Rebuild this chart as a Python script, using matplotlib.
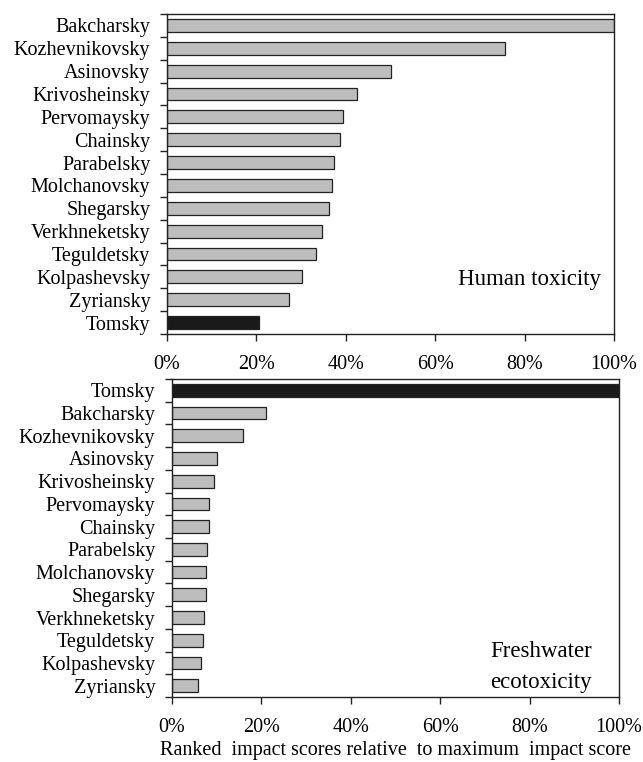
import matplotlib.pyplot as plt
from matplotlib.ticker import FixedLocator, PercentFormatter
import numpy as np

plt.rcParams['font.family'] = ['Liberation Serif', 'DejaVu Serif']

human_names = ['Bakcharsky', 'Kozhevnikovsky', 'Asinovsky', 'Krivosheinsky',
               'Pervomaysky', 'Chainsky', 'Parabelsky', 'Molchanovsky',
               'Shegarsky', 'Verkhneketsky', 'Teguldetsky', 'Kolpashevsky',
               'Zyriansky', 'Tomsky']
human_vals = [100, 75.7, 50.0, 42.5, 39.4, 38.8, 37.4, 36.9, 36.2, 34.6,
              33.3, 30.3, 27.4, 20.6]

fresh_names = ['Tomsky', 'Bakcharsky', 'Kozhevnikovsky', 'Asinovsky',
               'Krivosheinsky', 'Pervomaysky', 'Chainsky', 'Parabelsky',
               'Molchanovsky', 'Shegarsky', 'Verkhneketsky', 'Teguldetsky',
               'Kolpashevsky', 'Zyriansky']
fresh_vals = [100, 21.0, 15.9, 10.1, 9.3, 8.2, 8.2, 7.9, 7.5, 7.5, 7.2,
              7.0, 6.4, 5.9]

xticks = [0, 20, 40, 60, 80, 100]

W, H = 643, 762
fig = plt.figure(figsize=(W / 100, H / 100), dpi=100)


def panel(rect, names, vals, label_lines, label_xy):
    l, t, r, b = rect
    ax = fig.add_axes([l / W, 1 - b / H, (r - l) / W, (b - t) / H])
    n = len(names)
    pos = np.arange(n)
    colors = ['#1a1a1a' if nm == 'Tomsky' else '#bdbdbd' for nm in names]
    ax.barh(pos, vals, height=0.56, color=colors, edgecolor='#222222',
            linewidth=0.9)
    ax.set_ylim(n - 0.5, -0.5)
    ax.set_xlim(0, 100)
    ax.set_yticks(pos)
    ax.set_yticklabels(names, fontsize=14.5)
    ax.yaxis.set_minor_locator(FixedLocator(np.arange(n + 1) - 0.5))
    ax.tick_params(axis='y', which='major', length=0, pad=12)
    ax.tick_params(axis='y', which='minor', length=5, width=1,
                   direction='out', color='#222222')
    ax.set_xticks(xticks)
    ax.xaxis.set_major_formatter(PercentFormatter(decimals=0))
    ax.tick_params(axis='x', length=5, width=1, direction='out',
                   labelsize=14.5, pad=10, color='#222222')
    for s in ax.spines.values():
        s.set_linewidth(1.0)
        s.set_color('#222222')
    ax.text(label_xy[0], label_xy[1], '\n'.join(label_lines),
            transform=ax.transAxes, ha='center', va='center',
            fontsize=16.5, linespacing=1.6)
    return ax


panel((167, 14, 614, 334), human_names, human_vals,
      ['Human toxicity'], (0.81, 0.17))
ax2 = panel((172, 379, 619, 697), fresh_names, fresh_vals,
            ['Freshwater', 'ecotoxicity'], (0.825, 0.095))
ax2.set_xlabel('Ranked  impact scores relative  to maximum  impact score',
               fontsize=14.5, labelpad=3)

fig.savefig('out.png', dpi=100)
